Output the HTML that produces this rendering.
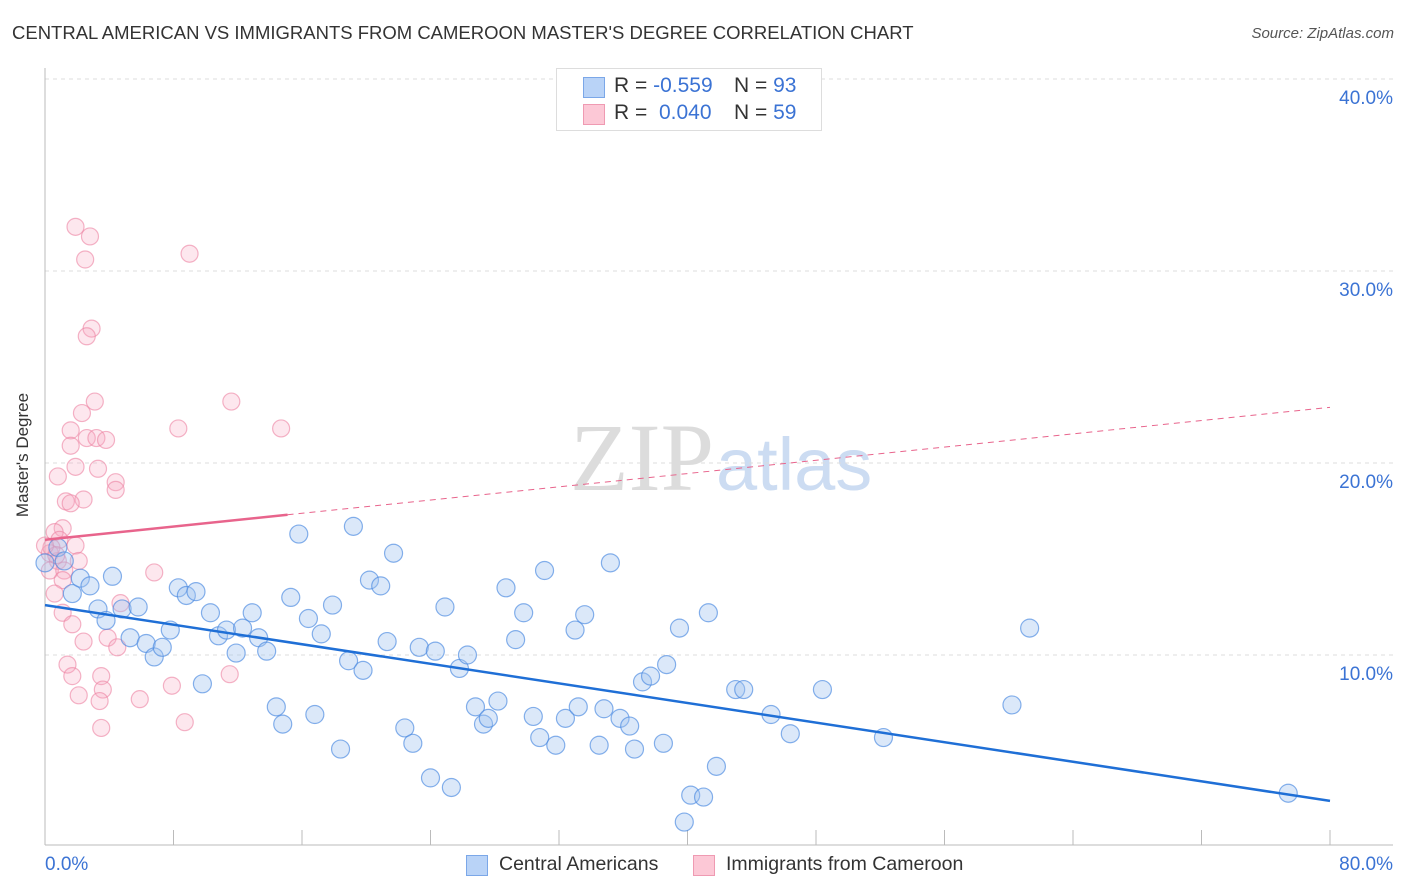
<!DOCTYPE html>
<html><head><meta charset="utf-8">
<style>
body{margin:0;width:1406px;height:892px;background:#fff;font-family:"Liberation Sans",sans-serif;overflow:hidden;position:relative}
.t{position:absolute;white-space:nowrap}
</style></head><body>
<div class="t" style="left:12px;top:22px;font-size:18.5px;color:#333;">CENTRAL AMERICAN VS IMMIGRANTS FROM CAMEROON MASTER'S DEGREE CORRELATION CHART</div>
<div class="t" style="right:12px;top:25px;font-size:15px;color:#555;font-style:italic;">Source: ZipAtlas.com</div>
<svg id="chart" width="1406" height="892" style="position:absolute;left:0;top:0">
<text x="714" y="490" text-anchor="end" font-family="Liberation Serif,serif" font-size="96" fill="#dcdcdc">ZIP</text>
<text x="716" y="490" font-family="Liberation Sans,sans-serif" font-size="74" fill="#ccdcf2">atlas</text>
<g id="grid"></g><g id="pts"></g><g id="trend"></g>
<text x="28" y="455" transform="rotate(-90 28 455)" text-anchor="middle" font-size="17" fill="#333">Master's Degree</text>
</svg>
<div style="position:absolute;left:556px;top:68px;width:264px;height:61px;border:1px solid #ddd;background:#fff;font-size:21px;color:#333;">
<div style="position:absolute;left:26px;top:8px;width:20px;height:19px;background:#b9d3f7;border:1px solid #7ba7e8"></div>
<div class="t" style="left:57px;top:5px">R = <span style="color:#3b73d4">-0.559</span></div>
<div class="t" style="left:177px;top:5px">N = <span style="color:#3b73d4">93</span></div>
<div style="position:absolute;left:26px;top:35px;width:20px;height:19px;background:#fcc8d6;border:1px solid #ef9ab2"></div>
<div class="t" style="left:57px;top:32px">R = <span style="color:#3b73d4">&nbsp;0.040</span></div>
<div class="t" style="left:177px;top:32px">N = <span style="color:#3b73d4">59</span></div>
</div>
<div style="position:absolute;left:466px;top:853px;font-size:19.5px;color:#333;">
<div style="position:absolute;left:0;top:2px;width:20px;height:19px;background:#b9d3f7;border:1px solid #7ba7e8"></div>
<div class="t" style="left:33px;top:0">Central Americans</div>
<div style="position:absolute;left:227px;top:2px;width:20px;height:19px;background:#fcc8d6;border:1px solid #ef9ab2"></div>
<div class="t" style="left:260px;top:0">Immigrants from Cameroon</div>
</div>
<script>
const blueX=[0,0.8,1.2,1.7,2.2,2.8,4.2,3.3,3.8,4.8,5.8,5.3,6.3,6.8,7.3,7.8,8.3,8.8,9.4,9.8,10.3,10.8,11.3,11.9,12.3,12.9,13.3,13.8,14.4,14.8,15.3,15.8,16.4,16.8,17.2,17.9,18.4,18.9,19.2,19.8,20.2,20.9,21.3,21.7,22.4,22.9,23.3,24.0,24.3,24.9,25.3,25.8,26.3,26.8,27.3,27.6,28.2,28.7,29.3,29.8,30.4,30.8,31.1,31.8,32.4,33.0,33.2,33.6,34.5,34.8,35.2,35.8,36.4,36.7,37.2,37.7,38.5,38.7,39.5,39.8,40.2,41.0,41.3,41.8,43.0,43.5,45.2,46.4,48.4,52.2,60.2,61.3,77.4];
const blueY=[14.8,15.6,14.9,13.2,14.0,13.6,14.1,12.4,11.8,12.4,12.5,10.9,10.6,9.9,10.4,11.3,13.5,13.1,13.3,8.5,12.2,11.0,11.3,10.1,11.4,12.2,10.9,10.2,7.3,6.4,13.0,16.3,11.9,6.9,11.1,12.6,5.1,9.7,16.7,9.2,13.9,13.6,10.7,15.3,6.2,5.4,10.4,3.6,10.2,12.5,3.1,9.3,10.0,7.3,6.4,6.7,7.6,13.5,10.8,12.2,6.8,5.7,14.4,5.3,6.7,11.3,7.3,12.1,5.3,7.2,14.8,6.7,6.3,5.1,8.6,8.9,5.4,9.5,11.4,1.3,2.7,2.6,12.2,4.2,8.2,8.2,6.9,5.9,8.2,5.7,7.4,11.4,2.8];
const pinkX=[1.9,2.8,2.5,9.0,2.9,2.6,3.1,2.3,1.6,1.6,2.6,3.2,3.8,11.6,8.3,14.7,1.9,3.3,0.8,4.4,4.4,1.3,2.4,1.6,1.1,0.6,0.9,1.9,2.1,0.8,0.3,1.2,6.8,1.1,4.7,0.6,1.1,1.7,2.4,3.9,4.5,1.4,1.7,3.5,3.6,2.1,3.4,5.9,7.9,11.5,8.7,3.5,0.3,0.4,0.7,0];
const pinkY=[32.3,31.8,30.6,30.9,27.0,26.6,23.2,22.6,21.7,20.9,21.3,21.3,21.2,23.2,21.8,21.8,19.8,19.7,19.3,19.0,18.6,18.0,18.1,17.9,16.6,16.4,16.0,15.7,14.9,14.9,14.4,14.4,14.3,13.9,12.7,13.2,12.2,11.6,10.7,10.9,10.4,9.5,8.9,8.9,8.2,7.9,7.6,7.7,8.4,9.0,6.5,6.2,15.3,15.6,15.2,15.7];
const blueTrend=[12.6,2.4];
const pinkTrend=[16.0,22.9];
const yTicks=[10,20,30,40];
const yTickLabels=["10.0%","20.0%","30.0%","40.0%"];
const xAxisLabels=["0.0%","80.0%"];
const NS="http://www.w3.org/2000/svg";
const X=v=>45+v*(1285/80), Y=v=>847-v*19.2;
function mk(tag,attrs,parent){const e=document.createElementNS(NS,tag);for(const k in attrs)e.setAttribute(k,attrs[k]);parent.appendChild(e);return e;}
const grid=document.getElementById('grid'),pts=document.getElementById('pts'),tr=document.getElementById('trend');
yTicks.forEach((t,i)=>{
 const l=mk('line',{x1:45,x2:1393,y1:Y(t),y2:Y(t),stroke:'#ddd','stroke-dasharray':'4,4'},grid);
 
 
 const tx=mk('text',{x:1393,y:Y(t)+25,'text-anchor':'end','font-size':19,fill:'#3b73d4'},grid);
 tx.textContent=yTickLabels[i];
 
 
});
const ax=mk('line',{x1:45,x2:45,y1:68,y2:845,stroke:'#bbb'},grid);


const bx=mk('line',{x1:45,x2:1393,y1:845,y2:845,stroke:'#bbb'},grid);


for(let i=0;i<=10;i++){const t=mk('line',{x1:X(i*8),x2:X(i*8),y1:830,y2:845,stroke:'#bbb'},grid);
 
 }
[[0,'start'],[80,'end']].forEach((a,i)=>{const t=mk('text',{x:i?1393:45,y:870,'text-anchor':a[1],'font-size':19,fill:'#3b73d4'},grid);t.textContent=xAxisLabels[i];
 
 });
pinkX.forEach((x,i)=>{const c=mk('circle',{cx:X(x),cy:Y(pinkY[i]),r:8.5,fill:'rgba(248,170,195,0.28)',stroke:'rgba(236,130,162,0.6)','stroke-width':1.2},pts);
 
 });
blueX.forEach((x,i)=>{const c=mk('circle',{cx:X(x),cy:Y(blueY[i]),r:9,fill:'rgba(160,195,240,0.38)',stroke:'rgba(70,135,225,0.65)','stroke-width':1.2},pts);
 
 });
const pAt=x=>pinkTrend[0]+(pinkTrend[1]-pinkTrend[0])*x/80;
let l1=mk('line',{x1:X(0),y1:Y(pAt(0)),x2:X(15.1),y2:Y(pAt(15.1)),stroke:'#e8648c','stroke-width':2.5},tr);


let l2=mk('line',{x1:X(15.1),y1:Y(pAt(15.1)),x2:X(80),y2:Y(pAt(80)),stroke:'#e8648c','stroke-width':1,'stroke-dasharray':'6,5'},tr);


let l3=mk('line',{x1:X(0),y1:Y(blueTrend[0]),x2:X(80),y2:Y(blueTrend[1]),stroke:'#1f6fd6','stroke-width':2.5},tr);


</script>
</body></html>
